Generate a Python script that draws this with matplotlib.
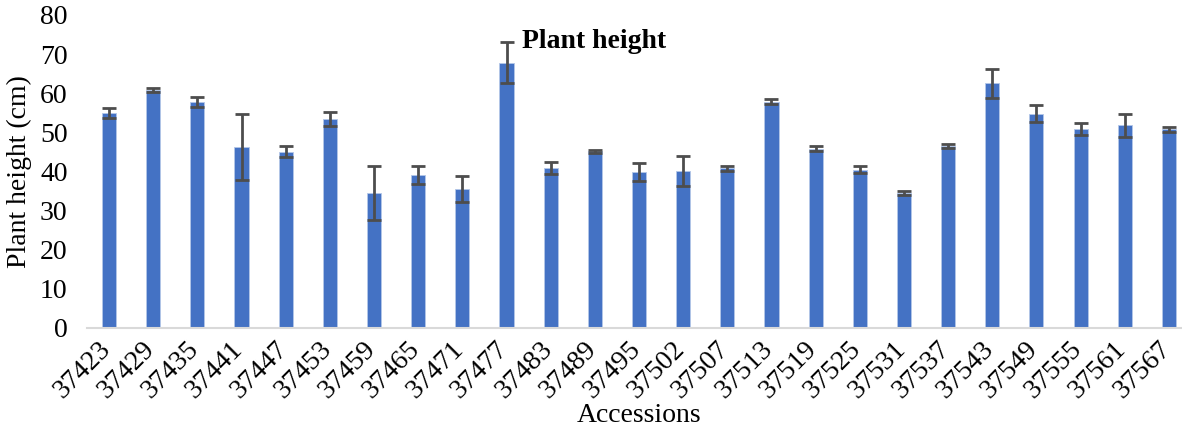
import numpy as np
import matplotlib.pyplot as plt
import matplotlib.transforms as mtransforms

# accessions and mean plant height (cm) with error
accessions = ['37423', '37429', '37435', '37441', '37447', '37453', '37459',
              '37465', '37471', '37477', '37483', '37489', '37495', '37502',
              '37507', '37513', '37519', '37525', '37531', '37537', '37543',
              '37549', '37555', '37561', '37567']
height = [54.9, 60.8, 57.8, 46.2, 45.1, 53.4, 34.5, 39.1, 35.5, 67.8, 40.8,
          45.2, 39.8, 40.1, 40.8, 57.8, 45.8, 40.5, 34.5, 46.5, 62.5, 54.8,
          50.8, 51.8, 50.8]
err = [1.2, 0.6, 1.2, 8.4, 1.4, 1.8, 6.8, 2.4, 3.4, 5.3, 1.5, 0.4, 2.3, 3.8,
       0.7, 0.6, 0.6, 0.9, 0.4, 0.4, 3.8, 2.1, 1.6, 2.9, 0.6]

plt.rcParams['font.family'] = ['Liberation Serif', 'DejaVu Serif']

fig = plt.figure(figsize=(11.82, 4.33), dpi=100)
ax = fig.add_axes([0.0736, 0.2425, 0.934, 0.723])

x = np.arange(len(accessions))
ax.bar(x, height, width=0.32, color='#4472C4', edgecolor='#B4C7E7', linewidth=0.6,
       yerr=err, capsize=4.8,
       error_kw=dict(ecolor='#4D4D4D', elinewidth=2, capthick=2))

ax.set_xlim(-0.5, len(accessions) - 0.5)
ax.set_ylim(0, 80)
ax.set_yticks(np.arange(0, 81, 10))
ax.set_xticks(x)
ax.set_xticklabels(accessions, rotation=45, ha='right', rotation_mode='anchor')
ax.tick_params(axis='both', length=0, labelsize=20)
ax.tick_params(axis='x', pad=6)
ax.tick_params(axis='y', pad=14)

# nudge rotated labels left so the last one stays inside the figure
shift = mtransforms.ScaledTranslation(-8 / 72, 0, fig.dpi_scale_trans)
for lbl in ax.get_xticklabels():
    lbl.set_transform(lbl.get_transform() + shift)

for s in ['top', 'right', 'left']:
    ax.spines[s].set_visible(False)
ax.spines['bottom'].set_color('#D9D9D9')
ax.spines['bottom'].set_linewidth(1.5)

ax.set_ylabel('Plant height (cm)', fontsize=20, labelpad=6)
ax.set_xlabel('Accessions', fontsize=20, labelpad=0)
fig.text(0.503, 0.905, 'Plant height', fontsize=20, fontweight='bold',
         ha='center', va='center')

fig.savefig('out.png', dpi=100)
